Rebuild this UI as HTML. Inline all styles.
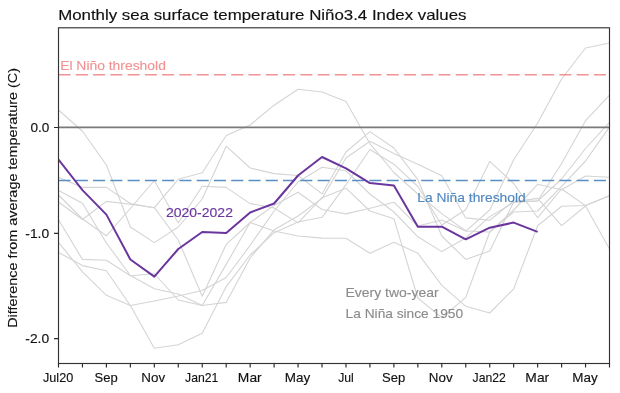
<!DOCTYPE html>
<html><head><meta charset="utf-8"><style>html,body{margin:0;padding:0;background:#fff;width:620px;height:393px;overflow:hidden}svg{display:block;will-change:transform}</style></head>
<body><svg width="620" height="393" viewBox="0 0 620 393">
<rect width="620" height="393" fill="#fff"/>
<defs><clipPath id="c"><rect x="58.5" y="27.8" width="551.0" height="335.7"/></clipPath></defs>
<g clip-path="url(#c)">
<polyline points="58.50,177.30 82.46,187.40 106.41,187.40 130.37,203.50 154.33,207.70 178.28,179.30 202.24,172.70 226.20,135.50 250.15,125.00 274.11,105.20 298.06,89.30 322.02,92.00 345.98,101.40 369.93,143.70 393.89,172.50 417.85,194.00 441.80,213.60 465.76,231.00 489.72,232.00 513.67,212.00 537.63,211.00 561.59,186.30 585.54,161.00 609.50,126.90" fill="none" stroke="#d4d4d4" stroke-width="1.1" stroke-linejoin="round"/>
<polyline points="58.50,202.00 82.46,219.50 106.41,201.40 130.37,204.30 154.33,207.70 178.28,240.00 202.24,296.20 226.20,244.40 250.15,222.50 274.11,205.40 298.06,192.20 322.02,209.50 345.98,213.90 369.93,208.30 393.89,202.20 417.85,226.00 441.80,220.00 465.76,231.10 489.72,210.00 513.67,159.70 537.63,123.00 561.59,79.00 585.54,48.00 609.50,43.00" fill="none" stroke="#d4d4d4" stroke-width="1.1" stroke-linejoin="round"/>
<polyline points="58.50,195.00 82.46,219.00 106.41,235.80 130.37,208.50 154.33,180.50 178.28,223.00 202.24,186.30 226.20,187.40 250.15,203.60 274.11,208.00 298.06,222.90 322.02,197.70 345.98,188.20 369.93,211.00 393.89,218.70 417.85,298.00 441.80,317.60 465.76,297.40 489.72,232.00 513.67,210.00 537.63,184.30 561.59,189.70 585.54,176.00 609.50,177.30" fill="none" stroke="#d4d4d4" stroke-width="1.1" stroke-linejoin="round"/>
<polyline points="58.50,110.00 82.46,131.25 106.41,165.00 130.37,227.00 154.33,242.60 178.28,227.00 202.24,199.00 226.20,146.20 250.15,168.00 274.11,173.60 298.06,175.50 322.02,193.90 345.98,152.00 369.93,131.60 393.89,148.00 417.85,179.70 441.80,236.00 465.76,259.40 489.72,251.00 513.67,202.00 537.63,198.40 561.59,225.70 585.54,206.00 609.50,249.00" fill="none" stroke="#d4d4d4" stroke-width="1.1" stroke-linejoin="round"/>
<polyline points="58.50,219.80 82.46,259.40 106.41,260.20 130.37,275.70 154.33,273.75 178.28,300.00 202.24,305.50 226.20,264.40 250.15,222.50 274.11,231.00 298.06,236.00 322.02,238.10 345.98,238.30 369.93,253.20 393.89,242.30 417.85,253.20 441.80,285.30 465.76,306.30 489.72,313.00 513.67,288.90 537.63,225.70 561.59,206.30 585.54,205.50 609.50,195.90" fill="none" stroke="#d4d4d4" stroke-width="1.1" stroke-linejoin="round"/>
<polyline points="58.50,242.30 82.46,271.80 106.41,295.30 130.37,305.50 154.33,301.00 178.28,296.00 202.24,290.50 226.20,277.50 250.15,245.30 274.11,211.00 298.06,182.00 322.02,167.30 345.98,170.80 369.93,194.00 393.89,212.00 417.85,236.80 441.80,251.60 465.76,238.00 489.72,216.60 513.67,202.40 537.63,201.00 561.59,179.00 585.54,148.50 609.50,122.30" fill="none" stroke="#d4d4d4" stroke-width="1.1" stroke-linejoin="round"/>
<polyline points="58.50,252.40 82.46,265.60 106.41,270.70 130.37,305.50 154.33,348.20 178.28,344.70 202.24,333.20 226.20,286.60 250.15,255.00 274.11,232.70 298.06,222.00 322.02,217.30 345.98,184.70 369.93,149.50 393.89,164.20 417.85,186.50 441.80,225.00 465.76,209.70 489.72,161.40 513.67,183.50 537.63,217.70 561.59,189.00 585.54,205.60 609.50,195.50" fill="none" stroke="#d4d4d4" stroke-width="1.1" stroke-linejoin="round"/>
<polyline points="58.50,190.60 82.46,203.30 106.41,243.00 130.37,275.50 154.33,288.75 178.28,294.00 202.24,305.50 226.20,302.40 250.15,258.00 274.11,229.80 298.06,216.00 322.02,198.40 345.98,158.00 369.93,141.30 393.89,153.50 417.85,164.20 441.80,175.80 465.76,217.90 489.72,220.30 513.67,201.00 537.63,201.00 561.59,163.50 585.54,120.70 609.50,95.10" fill="none" stroke="#d4d4d4" stroke-width="1.1" stroke-linejoin="round"/>
<line x1="58.5" x2="609.5" y1="127.45" y2="127.45" stroke="#7a7a7a" stroke-width="1.8"/>
<line x1="58.5" x2="609.5" y1="74.7" y2="74.7" stroke="#f29393" stroke-width="1.55" stroke-dasharray="12.1 5.17"/>
<line x1="58.5" x2="609.5" y1="180.4" y2="180.4" stroke="#5a8fc4" stroke-width="1.55" stroke-dasharray="12.1 5.17"/>
<polyline points="58.50,159.50 82.46,190.10 106.41,214.60 130.37,259.50 154.33,276.60 178.28,249.00 202.24,232.00 226.20,232.90 250.15,212.50 274.11,203.50 298.06,175.50 322.02,157.00 345.98,168.30 369.93,183.10 393.89,185.50 417.85,226.70 441.80,226.70 465.76,239.30 489.72,227.70 513.67,222.60 537.63,231.90" fill="none" stroke="#6a369e" stroke-width="2.0" stroke-linejoin="round"/>
</g>
<rect x="58.5" y="27.8" width="551.0" height="335.7" fill="none" stroke="#333" stroke-width="1.15"/>
<path d="M58.50,363.5v4 M82.46,363.5v4 M106.41,363.5v4 M130.37,363.5v4 M154.33,363.5v4 M178.28,363.5v4 M202.24,363.5v4 M226.20,363.5v4 M250.15,363.5v4 M274.11,363.5v4 M298.06,363.5v4 M322.02,363.5v4 M345.98,363.5v4 M369.93,363.5v4 M393.89,363.5v4 M417.85,363.5v4 M441.80,363.5v4 M465.76,363.5v4 M489.72,363.5v4 M513.67,363.5v4 M537.63,363.5v4 M561.59,363.5v4 M585.54,363.5v4 M609.50,363.5v4 M58.5,127.5h-4.5 M58.5,233.3h-4.5 M58.5,338.6h-4.5" stroke="#2a2a2a" stroke-width="1.15" fill="none"/>
<g font-family="Liberation Sans, sans-serif">
<text x="58.18" y="20.0" font-size="14.5" fill="#111" stroke="#111" stroke-width="0.14" text-anchor="start" textLength="408.31" lengthAdjust="spacingAndGlyphs" >Monthly sea surface temperature Niño3.4 Index values</text>
<text x="30.41" y="131.9" font-size="13.3" fill="#111" stroke="#111" stroke-width="0.14" text-anchor="start" textLength="18.88" lengthAdjust="spacingAndGlyphs" >0.0</text>
<text x="25.32" y="237.9" font-size="13.3" fill="#111" stroke="#111" stroke-width="0.14" text-anchor="start" textLength="23.85" lengthAdjust="spacingAndGlyphs" >-1.0</text>
<text x="60.17" y="70.0" font-size="13.3" fill="#f29393" stroke="#f29393" stroke-width="0.14" text-anchor="start" textLength="105.71" lengthAdjust="spacingAndGlyphs" >El Niño threshold</text>
<text x="417.23" y="201.5" font-size="13.3" fill="#4f88c0" stroke="#4f88c0" stroke-width="0.14" text-anchor="start" textLength="108.58" lengthAdjust="spacingAndGlyphs" >La Niña threshold</text>
<text x="165.99" y="217.4" font-size="13.3" fill="#6a369e" stroke="#6a369e" stroke-width="0.14" text-anchor="start" textLength="66.93" lengthAdjust="spacingAndGlyphs" >2020-2022</text>
<text x="345.54" y="296.8" font-size="13.3" fill="#8c8c8c" stroke="#8c8c8c" stroke-width="0.14" text-anchor="start" textLength="93.07" lengthAdjust="spacingAndGlyphs" >Every two-year</text>
<text x="345.61" y="317.7" font-size="13.3" fill="#8c8c8c" stroke="#8c8c8c" stroke-width="0.14" text-anchor="start" textLength="117.47" lengthAdjust="spacingAndGlyphs" >La Niña since 1950</text>
<text x="25.32" y="343.4" font-size="13.3" fill="#111" stroke="#111" stroke-width="0.14" text-anchor="start" textLength="23.85" lengthAdjust="spacingAndGlyphs" >-2.0</text>
<text x="42.98" y="381.7" font-size="13.3" fill="#111" stroke="#111" stroke-width="0.14" text-anchor="start" textLength="30.27" lengthAdjust="spacingAndGlyphs" >Jul20</text>
<text x="94.49" y="381.7" font-size="13.3" fill="#111" stroke="#111" stroke-width="0.14" text-anchor="start" textLength="23.22" lengthAdjust="spacingAndGlyphs" >Sep</text>
<text x="141.32" y="381.7" font-size="13.3" fill="#111" stroke="#111" stroke-width="0.14" text-anchor="start" textLength="23.81" lengthAdjust="spacingAndGlyphs" >Nov</text>
<text x="185.05" y="381.7" font-size="13.3" fill="#111" stroke="#111" stroke-width="0.14" text-anchor="start" textLength="33.31" lengthAdjust="spacingAndGlyphs" >Jan21</text>
<text x="237.89" y="381.7" font-size="13.3" fill="#111" stroke="#111" stroke-width="0.14" text-anchor="start" textLength="23.83" lengthAdjust="spacingAndGlyphs" >Mar</text>
<text x="284.72" y="381.7" font-size="13.3" fill="#111" stroke="#111" stroke-width="0.14" text-anchor="start" textLength="25.42" lengthAdjust="spacingAndGlyphs" >May</text>
<text x="381.97" y="381.7" font-size="13.3" fill="#111" stroke="#111" stroke-width="0.14" text-anchor="start" textLength="23.22" lengthAdjust="spacingAndGlyphs" >Sep</text>
<text x="428.8" y="381.7" font-size="13.3" fill="#111" stroke="#111" stroke-width="0.14" text-anchor="start" textLength="23.81" lengthAdjust="spacingAndGlyphs" >Nov</text>
<text x="472.53" y="381.7" font-size="13.3" fill="#111" stroke="#111" stroke-width="0.14" text-anchor="start" textLength="33.31" lengthAdjust="spacingAndGlyphs" >Jan22</text>
<text x="525.37" y="381.7" font-size="13.3" fill="#111" stroke="#111" stroke-width="0.14" text-anchor="start" textLength="23.83" lengthAdjust="spacingAndGlyphs" >Mar</text>
<text x="572.2" y="381.7" font-size="13.3" fill="#111" stroke="#111" stroke-width="0.14" text-anchor="start" textLength="25.42" lengthAdjust="spacingAndGlyphs" >May</text>
<text x="338.2" y="381.7" font-size="13.3" fill="#111" stroke="#111" stroke-width="0.14" text-anchor="start" textLength="15.6" lengthAdjust="spacingAndGlyphs" >Jul</text>
<text transform="translate(17.4,197.9) rotate(-90)" font-size="13.3" fill="#111" stroke="#111" stroke-width="0.14" text-anchor="middle" textLength="259.8" lengthAdjust="spacingAndGlyphs">Difference from average temperature (C)</text>
</g></svg></body></html>
